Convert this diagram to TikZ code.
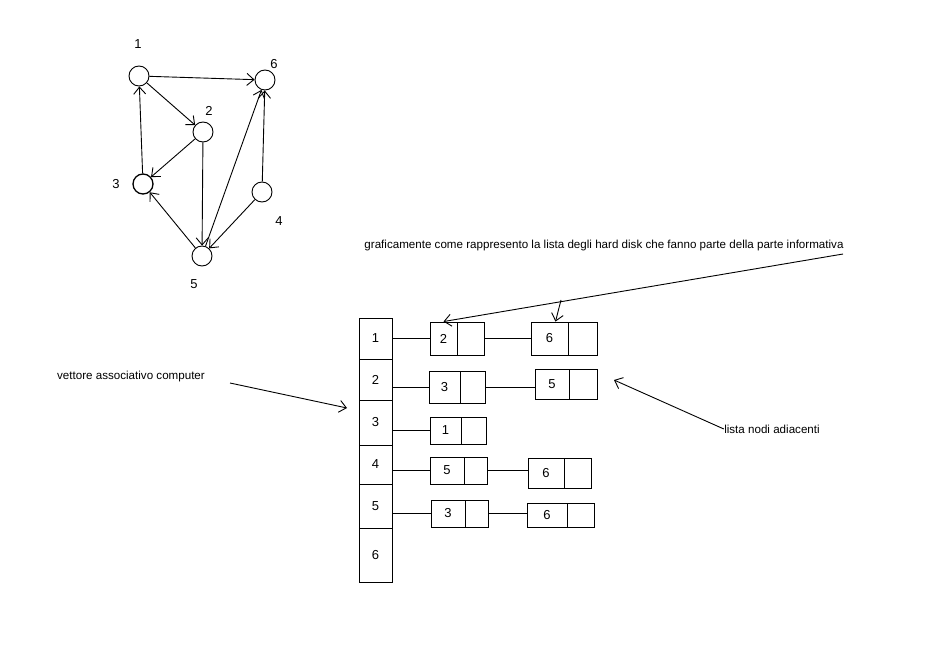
\documentclass[tikz,border=0pt]{standalone}
\usepackage{fontspec}
\setmainfont{Liberation Sans}
\usetikzlibrary{arrows.meta}
\begin{document}
\begin{tikzpicture}[x=1pt,y=-1pt,line width=0.9pt,
  vtx/.style={draw,circle,minimum size=20,inner sep=0},
  lbl/.style={inner sep=0,font=\fontsize{13}{15}\selectfont},
  note/.style={inner sep=0,font=\fontsize{11.6}{14}\selectfont},
  arr/.style={-{Straight Barb[length=7pt,width=12pt]}},
  cell/.style={draw,inner sep=0,font=\fontsize{13}{15}\selectfont},
  datacell/.style={cell,anchor=center},
  nextcell/.style={cell,anchor=west}]
\useasboundingbox (0,0) rectangle (929,658);

% graph
\node[vtx] (n1) at (139,76) {};
\node[vtx] (n2) at (203,132) {};
\node[vtx,line width=1.3pt] (n3) at (143,184) {};
\node[vtx] (n4) at (262,192) {};
\node[vtx] (n5) at (202,256) {};
\node[vtx] (n6) at (265,80) {};
\node[lbl] (l1) at (138,44) {1};
\node[lbl] (l2) at (209,111) {2};
\node[lbl] (l3) at (116,184) {3};
\node[lbl] (l4) at (279,221) {4};
\node[lbl] (l5) at (194,284) {5};
\node[lbl] (l6) at (274,64) {6};
\draw[arr] (n1) -- (n6);
\draw[arr] (n1) -- (n2);
\draw[arr] (n3) -- (n1);
\draw[arr] (n2) -- (n3);
\draw[arr] (n2) -- (n5);
\draw[arr] (n5) -- (n3);
\draw[arr] (n5) -- (n6);
\draw[arr] (n4) -- (n5);
\draw[arr] (n4) -- (n6);

% vector
\node[cell,minimum width=33,minimum height=41] (v1) at (375.5,338.5) {1};
\node[cell,minimum width=33,minimum height=41] (v2) at (375.5,379.5) {2};
\node[cell,minimum width=33,minimum height=45] (v3) at (375.5,422.5) {3};
\node[cell,minimum width=33,minimum height=39] (v4) at (375.5,464.5) {4};
\node[cell,minimum width=33,minimum height=44] (v5) at (375.5,506) {5};
\node[cell,minimum width=33,minimum height=54] (v6) at (375.5,555) {6};

% adjacency lists
\node[datacell,minimum width=27,minimum height=33] (r1a) at (443.5,338.5) {2};
\node[nextcell,minimum width=27,minimum height=33] (r1b) at (r1a.east) {};
\node[datacell,minimum width=37,minimum height=33] (r1c) at (549.5,338.5) {6};
\node[nextcell,minimum width=29,minimum height=33] (r1d) at (r1c.east) {};

\node[datacell,minimum width=31,minimum height=32] (r2a) at (444.5,387) {3};
\node[nextcell,minimum width=25,minimum height=32] (r2b) at (r2a.east) {};
\node[datacell,minimum width=34,minimum height=30] (r2c) at (552,384) {5};
\node[nextcell,minimum width=28,minimum height=30] (r2d) at (r2c.east) {};

\node[datacell,minimum width=31,minimum height=27] (r3a) at (445.5,430.5) {1};
\node[nextcell,minimum width=25,minimum height=27] (r3b) at (r3a.east) {};

\node[datacell,minimum width=34,minimum height=27] (r4a) at (447,470.5) {5};
\node[nextcell,minimum width=23,minimum height=27] (r4b) at (r4a.east) {};
\node[datacell,minimum width=36,minimum height=30] (r4c) at (546,473) {6};
\node[nextcell,minimum width=27,minimum height=30] (r4d) at (r4c.east) {};

\node[datacell,minimum width=34,minimum height=27] (r5a) at (448,513.5) {3};
\node[nextcell,minimum width=23,minimum height=27] (r5b) at (r5a.east) {};
\node[datacell,minimum width=40,minimum height=24] (r5c) at (547,515) {6};
\node[nextcell,minimum width=27,minimum height=24] (r5d) at (r5c.east) {};

\draw (r1a.west -| v1.east) -- (r1a.west);
\draw (r2a.west -| v2.east) -- (r2a.west);
\draw (r3a.west -| v3.east) -- (r3a.west);
\draw (r4a.west -| v4.east) -- (r4a.west);
\draw (r5a.west -| v5.east) -- (r5a.west);
\draw (r1b.east) -- (r1b.east -| r1c.west);
\draw (r2b.east) -- (r2b.east -| r2c.west);
\draw (r4b.east) -- (r4b.east -| r4c.west);
\draw (r5b.east) -- (r5b.east -| r5c.west);

% notes
\node[note] (gtext) at (604,245) {graficamente come rappresento la lista degli hard disk che fanno parte della parte informativa};
\coordinate (gtail) at (843,254);
\coordinate (gbr) at (561,300);
\draw[arr] (gtail) -- (r1a.north);
\draw[arr] (gbr) -- ([xshift=6pt]r1c.north);

\node[note] (vtext) at (131,376) {vettore associativo computer};
\coordinate (vtail) at (230,383);
\coordinate (vtip) at (347,408);
\draw[arr] (vtail) -- (vtip);

\node[note] (ltext) at (772,429) {lista nodi adiacenti};
\coordinate (ltip) at (614,380);
\draw[arr] (ltext.west) -- (ltip);
\end{tikzpicture}
\end{document}
